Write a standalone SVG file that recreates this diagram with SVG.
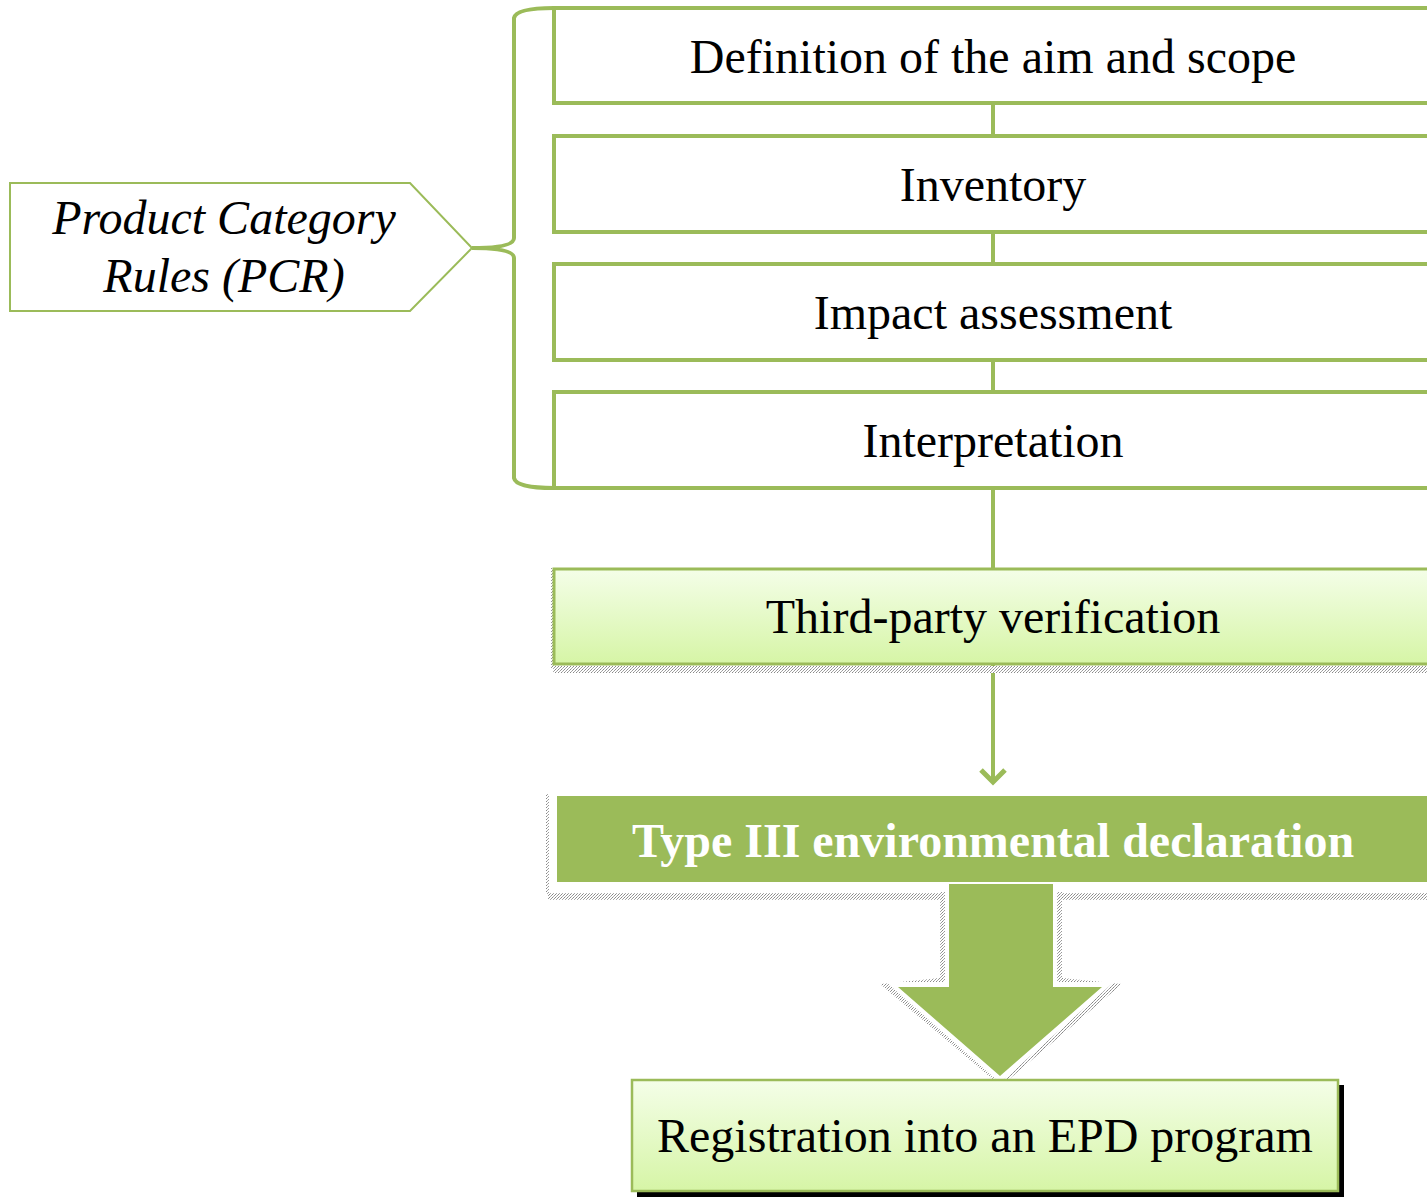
<svg xmlns="http://www.w3.org/2000/svg" width="1427" height="1197" viewBox="0 0 1427 1197">
<defs>
<linearGradient id="lg" x1="0" y1="0" x2="0" y2="1">
<stop offset="0" stop-color="#F4FEE8"/>
<stop offset="1" stop-color="#D6F5A6"/>
</linearGradient>
<pattern id="dith" width="3" height="3" patternUnits="userSpaceOnUse">
<rect width="3" height="3" fill="#ffffff"/>
<rect width="1" height="1" fill="#888"/>
<rect x="2" y="1" width="1" height="1" fill="#999"/>
<rect x="1" y="2" width="1" height="1" fill="#aaa"/>
</pattern>
<marker id="chev" markerWidth="30" markerHeight="30" refX="15" refY="15" orient="auto" markerUnits="userSpaceOnUse">
<path d="M3,3 L15,15 L3,27" fill="none" stroke="#9BBB59" stroke-width="5"/>
</marker>
</defs>
<style>
.box{fill:#ffffff;stroke:#9BBB59;stroke-width:4}
.t{font-family:"Liberation Serif","Times New Roman",serif;font-size:48px;fill:#000;text-anchor:middle}
.conn{stroke:#9BBB59;stroke-width:4;fill:none}
</style>
<rect width="1427" height="1197" fill="#ffffff"/>
<g id="connectors">
<line class="conn" x1="993" y1="103" x2="993" y2="136"/>
<line class="conn" x1="993" y1="232" x2="993" y2="264"/>
<line class="conn" x1="993" y1="360" x2="993" y2="392"/>
<line class="conn" x1="993" y1="488" x2="993" y2="569"/>
<line class="conn" x1="993" y1="664" x2="993" y2="782" marker-end="url(#chev)"/>
<path class="conn" d="M554,8 Q516,8 514,18 L514,238 Q514,248 472,248 Q514,248 514,258 L514,478 Q516,488 554,488"/>
</g>
<g id="pcr">
<path d="M10,183 L410,183 L472,248 L410,311 L10,311 Z" fill="#ffffff" stroke="#9BBB59" stroke-width="2"/>
<text class="t" x="224" y="234" font-style="italic">Product Category</text>
<text class="t" x="224" y="292" font-style="italic">Rules (PCR)</text>
</g>
<g id="aim">
<rect class="box" x="554" y="8" width="880" height="95"/>
<text class="t" x="993" y="73">Definition of the aim and scope</text>
</g>
<g id="inventory">
<rect class="box" x="554" y="136" width="880" height="96"/>
<text class="t" x="993" y="201">Inventory</text>
</g>
<g id="impact">
<rect class="box" x="554" y="264" width="880" height="96"/>
<text class="t" x="993" y="329">Impact assessment</text>
</g>
<g id="interp">
<rect class="box" x="554" y="392" width="880" height="96"/>
<text class="t" x="993" y="457">Interpretation</text>
</g>
<g id="verif">
<rect x="553" y="666" width="880" height="7" fill="url(#dith)"/>
<rect x="551" y="568" width="3" height="100" fill="url(#dith)"/>
<rect x="554" y="569" width="880" height="95" fill="url(#lg)" stroke="#9BBB59" stroke-width="3"/>
<text class="t" x="993" y="633">Third-party verification</text>
</g>
<g id="type3">
<rect x="548" y="893" width="880" height="7" fill="url(#dith)"/>
<rect x="546" y="794" width="3" height="100" fill="url(#dith)"/>
<rect x="549" y="791" width="880" height="98" fill="#ffffff"/>
<rect x="557" y="796" width="880" height="86" fill="#9BBB59"/>
<text class="t" x="993" y="857" font-weight="bold" style="fill:#fff">Type III environmental declaration</text>
</g>
<g id="bigarrow">
<path d="M940,892 L1062,892 L1062,978 L1122,984 L1001,1086 L880,984 L940,978 Z" fill="url(#dith)"/>
<path d="M945,886 L1057,886 L1057,982 L1114,982 L1000,1083 L886,982 L945,982 Z" fill="#ffffff"/>
<path d="M949,884 L1053,884 L1053,987 L1102,987 L1000,1076 L898,987 L949,987 Z" fill="#9BBB59"/>
</g>
<g id="reg">
<rect x="637" y="1085" width="707" height="112" fill="#000"/>
<rect x="632" y="1080" width="706" height="111" fill="url(#lg)" stroke="#9BBB59" stroke-width="2.5"/>
<text class="t" x="985" y="1152">Registration into an EPD program</text>
</g>
</svg>
